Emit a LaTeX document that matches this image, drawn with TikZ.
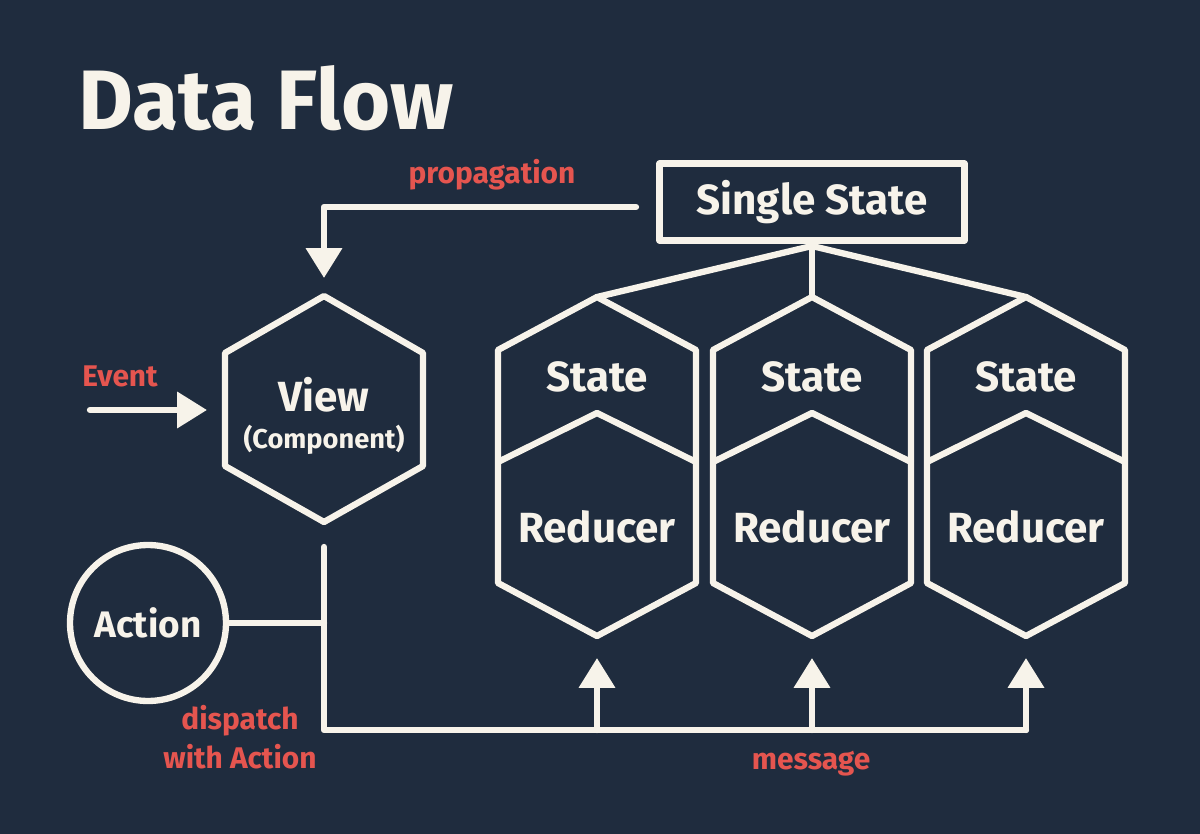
\documentclass[tikz,border=0pt]{standalone}
\usepackage{fontspec}
\setmainfont{Fira Sans}
\usetikzlibrary{arrows.meta}
\definecolor{board}{HTML}{1F2C3E}
\definecolor{chalk}{HTML}{F7F3EA}
\definecolor{coral}{HTML}{E5554F}
\tikzset{
  line/.style={draw=chalk, line width=3.6pt, line cap=round, line join=round},
  arr/.style={line, -{Triangle[length=17pt,width=20pt]}},
  word/.style={text=chalk, font=\bfseries\fontsize{24}{26}\selectfont},
  note/.style={text=coral, font=\bfseries\fontsize{17}{22}\selectfont, align=center},
}
\begin{document}
\begin{tikzpicture}[x=0.02cm, y=-0.02cm]
            \fill[board] (0,0) rectangle (1200,834);
            \useasboundingbox (0,0) rectangle (1200,834);
            \node[text=chalk, font=\bfseries\fontsize{48}{52}\selectfont, anchor=base west, inner sep=0pt] (title) at (78,130) {Data Flow};
            \node[word, line, minimum width=6.1cm, minimum height=1.54cm] (single) at (812,202) {Single State};
            \node[note] (prop) at (492,175) {propagation};
            \node[word] (view) at (324,395) {View};
            \node[text=chalk, font=\bfseries\fontsize{15.5}{17}\selectfont] (comp) at (324,440) {(Component)};
            \node[word, font=\bfseries\fontsize{21}{24}\selectfont, circle, line, minimum size=3.12cm] (action) at (148,623) {Action};
            \node[note] (event) at (120,376) {Event};
            \node[note] (dispatch) at (240,737) {dispatch\\with Action};
            \node[note] (message) at (811,764) {message};
            \coordinate (ptop) at (636,207);
            \coordinate (vtip) at (324,278);
            \coordinate (ein) at (90,410);
            \coordinate (etip) at (207,410);
            \coordinate (vbot) at (324,547);
            \coordinate (hook) at (324,623);
            \coordinate (joint) at (812,246);
            % view hexagon
            \draw[line] (324,296) -- (423,353) -- (423,466) -- (324,522) -- (225,466) -- (225,353) -- cycle;
            % state / reducer hexagons
            \foreach \cx/\n in {597/1, 812/2, 1026/3} {
                \draw[line] (\cx,297) -- ++(99,53) -- ++(0,233) -- ++(-99,53) -- ++(-99,-53) -- ++(0,-233) -- cycle;
                \draw[line] (\cx-99,462) -- (\cx,413) -- (\cx+99,462);
                \node[word] (state\n) at (\cx,377) {State};
                \node[word] (reducer\n) at (\cx,527) {Reducer};
                \coordinate (top\n) at (\cx,297);
                \coordinate (tip\n) at (\cx,658);
                \coordinate (bus\n) at (\cx,730);
            }
            \draw[line] (single.south) -- (top2);
            \draw[line] (joint) -- (top1);
            \draw[line] (joint) -- (top3);
            \draw[arr] (ptop) -| (vtip);
            \draw[arr] (ein) -- (etip);
            \draw[line] (action.east) -- (hook);
            \draw[line] (vbot) |- (bus3);
            \draw[arr] (bus1) -- (tip1);
            \draw[arr] (bus2) -- (tip2);
            \draw[arr] (bus3) -- (tip3);
\end{tikzpicture}
\end{document}
